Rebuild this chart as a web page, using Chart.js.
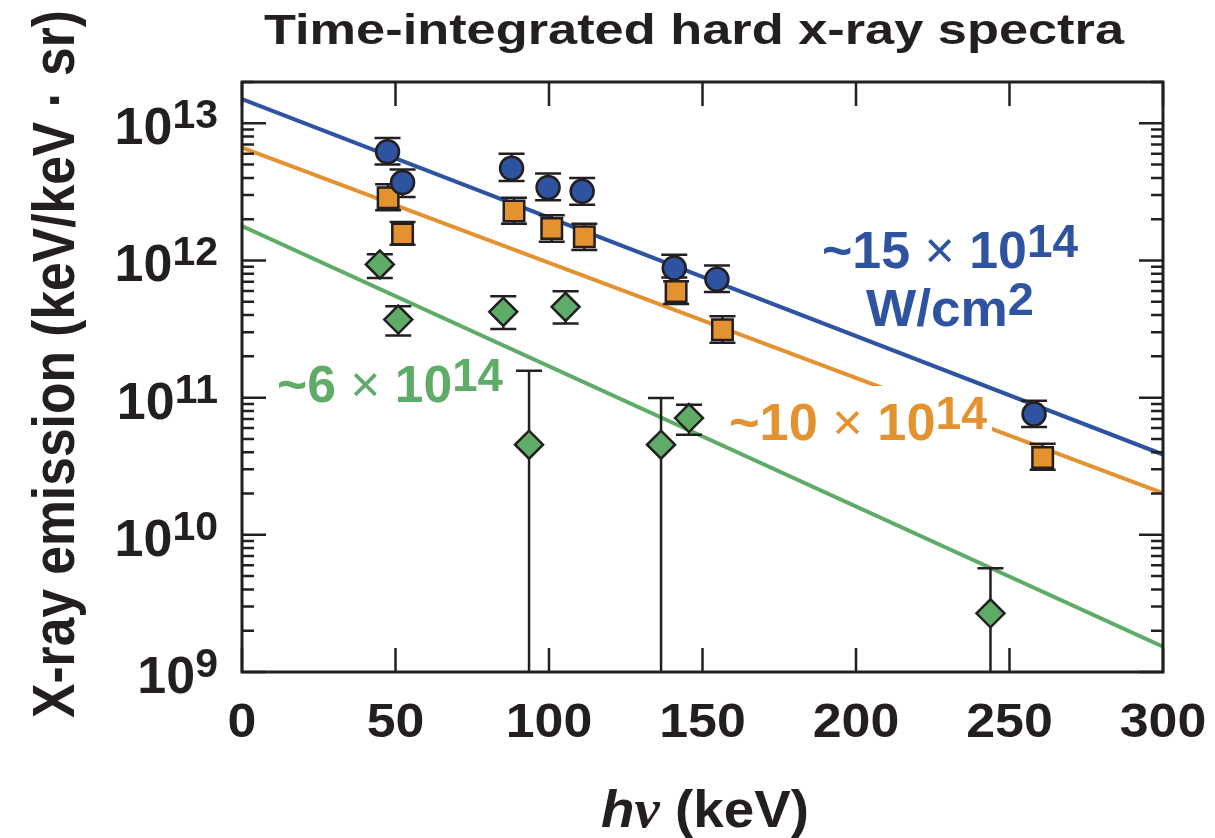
<!DOCTYPE html>
<html>
<head>
<meta charset="utf-8">
<script src="https://cdn.jsdelivr.net/npm/chart.js@4.4.1/dist/chart.umd.min.js"></script>
<style>
  body { margin: 0; background: #fff; }
  canvas { display: block; }
</style>
</head>
<body>
<canvas id="spectra" width="1215" height="838"></canvas>
<script>
// photon energy (keV) and emission (keV/keV.sr) with error bar limits
const blueX = [47.4, 52.3, 87.8, 99.7, 110.8, 140.8, 154.7, 258.0];
const blueY = [6.2e12, 3.7e12, 4.7e12, 3.4e12, 3.2e12, 8.8e11, 7.3e11, 7.6e10];
const blueLo = [5.0e12, 2.9e12, 3.8e12, 2.75e12, 2.55e12, 7.5e11, 5.9e11, 6.1e10];
const blueHi = [7.8e12, 4.6e12, 6.0e12, 4.3e12, 4.0e12, 1.1e12, 9.2e11, 9.5e10];

const orangeX = [47.6, 52.3, 88.6, 100.9, 111.5, 141.4, 156.5, 260.8];
const orangeY = [2.86e12, 1.56e12, 2.29e12, 1.71e12, 1.49e12, 5.95e11, 3.13e11, 3.66e10];
const orangeLo = [2.32e12, 1.30e12, 1.85e12, 1.37e12, 1.19e12, 4.82e11, 2.51e11, 2.98e10];
const orangeHi = [3.59e12, 1.91e12, 2.86e12, 2.14e12, 1.85e12, 7.06e11, 3.92e11, 4.61e10];

const greenX = [44.9, 50.9, 85.1, 93.5, 105.4, 136.5, 145.6, 243.8];
const greenY = [9.35e11, 3.71e11, 4.22e11, 4.54e10, 4.59e11, 4.54e10, 7.1e10, 2.68e9];
const greenLo = [7.46e11, 2.84e11, 3.17e11, 1e8, 3.47e11, 1e8, 5.37e10, 1e8]; // 1e8 = runs off the axis
const greenHi = [1.11e12, 4.63e11, 5.48e11, 1.57e11, 5.97e11, 9.93e10, 8.89e10, 5.7e9];

// exponential fits (straight on the log axis)
const fitX = [0, 300];
const blueFit = [1.5e13, 3.85e10];
const orangeFit = [6.64e12, 2.01e10];
const greenFit = [1.78e12, 1.53e9];

const xTicks = [0, 50, 100, 150, 200, 250, 300];
const yTickExps = [9, 10, 11, 12, 13];

const INK = "#231f20";
const BLUE = "#2e53a1";
const ORANGE = "#e4912f";
const GREEN = "#5fab68";
const SANS = "'Liberation Sans', Arial, Helvetica, sans-serif";
const SERIF = "'Liberation Serif', 'Times New Roman', serif";

function pts(xs, ys) {
  return xs.map((x, i) => ({ x: x, y: ys[i] }));
}

// draw a run of text pieces (own font / raise each), optionally stretched to a given width
function drawRich(ctx, pieces, x, y, align, width) {
  let total = 0;
  pieces.forEach(p => {
    ctx.font = p.font;
    p.w = ctx.measureText(p.t).width;
    total += p.w;
  });
  const sx = width ? width / total : 1;
  let cx = align === "center" ? -total / 2 : align === "right" ? -total : 0;
  ctx.save();
  ctx.translate(x, y);
  ctx.scale(sx, 1);
  ctx.textAlign = "left";
  ctx.textBaseline = "alphabetic";
  pieces.forEach(p => {
    ctx.font = p.font;
    ctx.fillText(p.t, cx, p.dy || 0);
    cx += p.w;
  });
  ctx.restore();
  return total * sx;
}

function powerLabel(pre, base, exp, size) {
  return [
    { t: pre, font: "bold " + size + "px " + SANS },
    { t: " \u00d7 ", font: size + "px " + SANS },
    { t: base, font: "bold " + size + "px " + SANS },
    { t: exp, font: "bold " + (size - 6) + "px " + SANS, dy: -11 }
  ];
}

const errorSets = [
  { x: blueX, lo: blueLo, hi: blueHi },
  { x: orangeX, lo: orangeLo, hi: orangeHi },
  { x: greenX, lo: greenLo, hi: greenHi }
];

// draw order is 5,4,3,...: orange fit, then its label (white box cuts only that line),
// then blue and green fits, then error bars, then the markers
const overlayPlugin = {
  id: "overlay",
  beforeDatasetDraw(chart, args) {
    const ctx = chart.ctx, a = chart.chartArea;
    const xs = chart.scales.x, ys = chart.scales.y;
    if (args.index === 4) {
      const oCx = 858, oBase = 440;
      ctx.save();
      ctx.fillStyle = "#fff";
      ctx.fillRect(oCx - 134, oBase - 54, 268, 60);
      ctx.fillStyle = ORANGE;
      drawRich(ctx, powerLabel("~10", "10", "14", 52), oCx, oBase, "center", 258);
      ctx.restore();
    }
    if (args.index !== 2) return;
    ctx.save();
    ctx.beginPath();
    ctx.rect(a.left, a.top, a.right - a.left, a.bottom - a.top);
    ctx.clip();
    ctx.strokeStyle = INK;
    ctx.lineWidth = 2.5;
    errorSets.forEach(s => {
      s.x.forEach((xv, i) => {
        const px = xs.getPixelForValue(xv);
        const lo = ys.getPixelForValue(s.lo[i]);
        const hi = ys.getPixelForValue(s.hi[i]);
        ctx.beginPath();
        ctx.moveTo(px, lo); ctx.lineTo(px, hi);
        ctx.moveTo(px - 13, lo); ctx.lineTo(px + 13, lo);
        ctx.moveTo(px - 13, hi); ctx.lineTo(px + 13, hi);
        ctx.stroke();
      });
    });
    ctx.restore();
  }
};

const framePlugin = {
  id: "frame",
  afterDatasetsDraw(chart) {
    const ctx = chart.ctx, a = chart.chartArea;
    const xs = chart.scales.x, ys = chart.scales.y;
    ctx.save();

    ctx.fillStyle = BLUE;
    drawRich(ctx, powerLabel("~15", "10", "14", 52), 950, 268, "center", 256);
    drawRich(ctx, [
      { t: "W/cm", font: "bold 52px " + SANS },
      { t: "2", font: "bold 46px " + SANS, dy: -11 }
    ], 950, 326, "center", 168);

    ctx.fillStyle = GREEN;
    drawRich(ctx, powerLabel("~6", "10", "14", 52), 390, 402, "center", 226);

    // frame and inward ticks on all four sides
    ctx.strokeStyle = INK;
    ctx.lineWidth = 3;
    ctx.strokeRect(a.left, a.top, a.right - a.left, a.bottom - a.top);
    ctx.lineWidth = 2.5;
    ctx.beginPath();
    xTicks.forEach(v => {
      const px = xs.getPixelForValue(v);
      ctx.moveTo(px, a.bottom); ctx.lineTo(px, a.bottom - 24);
      ctx.moveTo(px, a.top); ctx.lineTo(px, a.top + 24);
    });
    yTickExps.forEach(e => {
      for (let m = 1; m < 10; m++) {
        const v = m * Math.pow(10, e);
        if (v > ys.max) break;
        const py = ys.getPixelForValue(v);
        const len = m === 1 ? 24 : 12;
        ctx.moveTo(a.left, py); ctx.lineTo(a.left + len, py);
        ctx.moveTo(a.right, py); ctx.lineTo(a.right - len, py);
      }
    });
    ctx.stroke();

    // tick labels
    ctx.fillStyle = INK;
    xTicks.forEach(v => {
      const px = xs.getPixelForValue(v);
      ctx.font = "bold 48px " + SANS;
      const w = ctx.measureText(String(v)).width;
      drawRich(ctx, [{ t: String(v), font: "bold 48px " + SANS }], px, 737, "center", w * 1.08);
    });
    yTickExps.forEach(e => {
      const py = ys.getPixelForValue(Math.pow(10, e));
      drawRich(ctx, [
        { t: "10", font: "bold 52px " + SANS },
        { t: String(e), font: "bold 41px " + SANS, dy: -16 }
      ], 218, py + 21, "right");
    });

    // titles
    drawRich(ctx, [{ t: "Time-integrated hard x-ray spectra", font: "bold 43px " + SANS }],
      694, 44, "center", 860);

    drawRich(ctx, [
      { t: "h", font: "italic bold 52px " + SANS },
      { t: "\u03bd", font: "italic bold 54px " + SERIF },
      { t: " (keV)", font: "bold 52px " + SANS }
    ], 705, 827, "center", 208);

    ctx.save();
    ctx.translate(74, 364);
    ctx.rotate(-Math.PI / 2);
    ctx.scale(1, 1.2);
    drawRich(ctx, [{ t: "X-ray emission (keV/keV \u00b7 sr)", font: "bold 50px " + SANS }],
      0, 0, "center", 708);
    ctx.restore();

    ctx.restore();
  }
};

new Chart(document.getElementById("spectra"), {
  type: "scatter",
  data: {
    datasets: [
      {
        data: pts(blueX, blueY),
        pointStyle: "circle",
        pointRadius: 11.5,
        backgroundColor: BLUE,
        borderColor: INK,
        borderWidth: 2.5
      },
      {
        data: pts(orangeX, orangeY),
        pointStyle: "rect",
        pointRadius: 14.5,
        backgroundColor: ORANGE,
        borderColor: INK,
        borderWidth: 2.5
      },
      {
        data: pts(greenX, greenY),
        pointStyle: "rectRot",
        pointRadius: 14,
        backgroundColor: GREEN,
        borderColor: INK,
        borderWidth: 2.5
      },
      { type: "line", data: pts(fitX, greenFit), borderColor: GREEN, borderWidth: 4, pointRadius: 0 },
      { type: "line", data: pts(fitX, blueFit), borderColor: BLUE, borderWidth: 4, pointRadius: 0 },
      { type: "line", data: pts(fitX, orangeFit), borderColor: ORANGE, borderWidth: 4, pointRadius: 0 }
    ]
  },
  options: {
    responsive: false,
    animation: false,
    devicePixelRatio: 1,
    layout: { padding: { left: 242, top: 82, right: 52, bottom: 166 } },
    scales: {
      x: { type: "linear", display: false, min: 0, max: 300 },
      y: { type: "logarithmic", display: false, min: 1e9, max: 2e13 }
    },
    plugins: {
      legend: { display: false },
      tooltip: { enabled: false }
    }
  },
  plugins: [overlayPlugin, framePlugin]
});
</script>
</body>
</html>
